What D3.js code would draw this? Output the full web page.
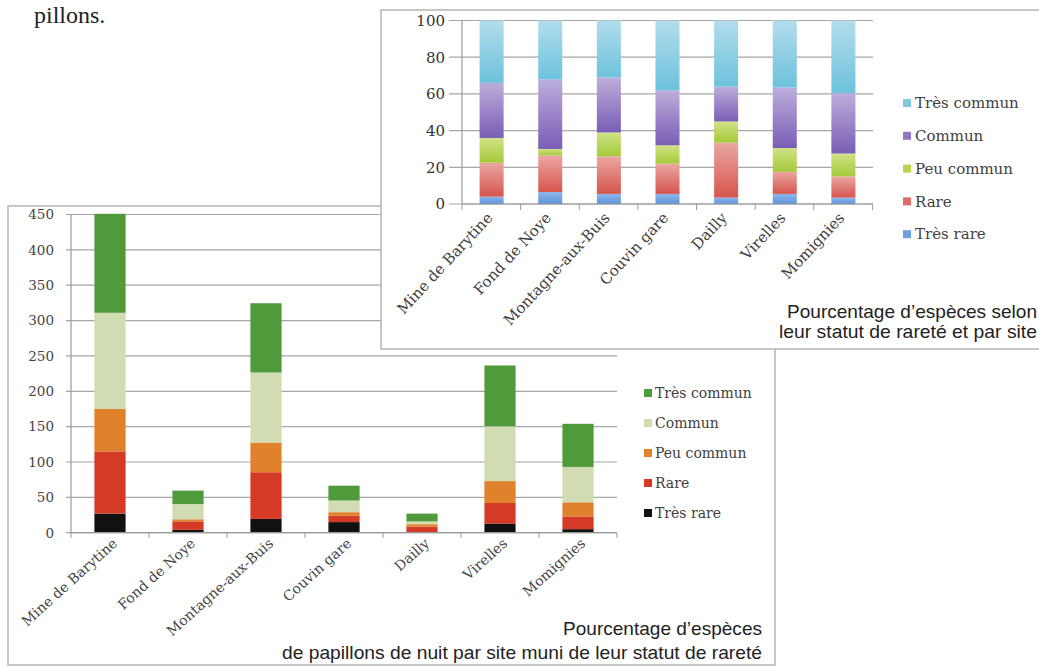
<!DOCTYPE html>
<html><head><meta charset="utf-8">
<script src="https://cdn.jsdelivr.net/npm/d3@7/dist/d3.min.js"></script>
<style>html,body{margin:0;padding:0;background:#fff;}svg{display:block;}</style>
</head><body>
<svg id="c" width="1039" height="667"></svg>
<script>
// ---------- DATA ----------
const sites = ["Mine de Barytine","Fond de Noye","Montagne-aux-Buis","Couvin gare","Dailly","Virelles","Momignies"];
const statuses = ["Très rare","Rare","Peu commun","Commun","Très commun"];
// Top chart: percentage of species per status
const pctTresRare   = [4, 6.5, 5.5, 5.5, 3.5, 5.5, 3.5];
const pctRare       = [18.5, 20, 20.5, 16.5, 30, 12, 11.5];
const pctPeuCommun  = [13.5, 3.5, 13, 10, 11.5, 13, 12.5];
const pctCommun     = [30, 38, 30, 30, 19, 33, 33];
const pctTresCommun = [34, 32, 31, 38, 36, 36.5, 39.5];
const pctTicks = [0,20,40,60,80,100];
// Bottom chart: number of species per status
const nbTresRare   = [27, 4, 19.5, 15, 1, 13, 5];
const nbRare       = [88, 12, 66, 9, 7.5, 29, 18];
const nbPeuCommun  = [60, 3, 42, 5, 3.5, 31, 20];
const nbCommun     = [136, 21.5, 99, 16.5, 4, 77.5, 50];
const nbTresCommun = [140, 19, 98, 21, 11, 86, 61];
const nbTicks = [0,50,100,150,200,250,300,350,400,450];
const captionTop = ["Pourcentage d’espèces selon","leur statut de rareté et par site"];
const captionBottom = ["Pourcentage d’espèces","de papillons de nuit par site muni de leur statut de rareté"];

// ---------- DRAW ----------
const svg = d3.select("#c");
const serif = "'DejaVu Serif', serif";
const sans = "'Liberation Sans', Arial, sans-serif";

svg.append("text").attr("x",34).attr("y",23).attr("font-family","'Liberation Serif', serif")
  .attr("font-size",24).attr("fill","#222").text("pillons.");

function makeRows(arrs){
  return sites.map((s,i)=>{ const r={site:s}; statuses.forEach((k,j)=>r[k]=arrs[j][i]); return r; });
}

// ===== Bottom chart =====
(function(){
  const g = svg.append("g");
  g.append("rect").attr("x",8).attr("y",206).attr("width",767).attr("height",459)
    .attr("fill","#fff").attr("stroke","#b4b4b4").attr("stroke-width",1.5);
  const rows = makeRows([nbTresRare,nbRare,nbPeuCommun,nbCommun,nbTresCommun]);
  const x = d3.scaleBand().domain(sites).range([71,617]).paddingInner(0.6).paddingOuter(0.3);
  const y = d3.scaleLinear().domain([0,450]).range([532.7,214.5]);
  const colors = {"Très rare":"#111111","Rare":"#d43a26","Peu commun":"#e0812c","Commun":"#d1dcb2","Très commun":"#4f9a3b"};
  g.append("g").selectAll("line").data(nbTicks).join("line")
    .attr("x1",66).attr("x2",617).attr("y1",d=>y(d)).attr("y2",d=>y(d))
    .attr("stroke","#a6a6a6").attr("stroke-width",1.2);
  g.append("g").selectAll("text").data(nbTicks).join("text")
    .attr("x",54).attr("y",d=>y(d)).attr("dy","0.36em").attr("text-anchor","end")
    .attr("font-family",serif).attr("font-size",13.5).attr("fill","#444").text(d=>d);
  const stack = d3.stack().keys(statuses)(rows);
  g.append("g").selectAll("g").data(stack).join("g").attr("fill",d=>colors[d.key])
    .selectAll("rect").data(d=>d).join("rect")
    .attr("x",d=>x(d.data.site)).attr("width",x.bandwidth())
    .attr("y",d=>y(d[1])).attr("height",d=>y(d[0])-y(d[1]));
  g.append("line").attr("x1",71).attr("x2",71).attr("y1",214).attr("y2",532.7).attr("stroke","#999").attr("stroke-width",1.2);
  g.append("line").attr("x1",71).attr("x2",617).attr("y1",532.7).attr("y2",532.7).attr("stroke","#999").attr("stroke-width",1.2);
  const step = x.step();
  g.append("g").selectAll("line").data(d3.range(sites.length+1)).join("line")
    .attr("x1",d=>71+d*step).attr("x2",d=>71+d*step).attr("y1",532.7).attr("y2",538)
    .attr("stroke","#999");
  g.append("g").selectAll("text").data(sites).join("text")
    .attr("transform",d=>`translate(${x(d)+x.bandwidth()/2+5},${541}) rotate(-42)`)
    .attr("text-anchor","end").attr("dy","0.35em")
    .attr("font-family",serif).attr("font-size",14).attr("fill","#444").text(d=>d);
  const leg = g.append("g").selectAll("g").data(statuses.slice().reverse()).join("g")
    .attr("transform",(d,i)=>`translate(644,${393+i*30})`);
  leg.append("rect").attr("x",0).attr("y",-4).attr("width",8).attr("height",8).attr("fill",d=>colors[d]);
  leg.append("text").attr("x",11).attr("dy","0.35em").attr("font-family",serif).attr("font-size",14)
    .attr("fill","#404040").text(d=>d);
  const capLen = [199, 480];
  g.append("g").selectAll("text").data(captionBottom).join("text")
    .attr("x",762).attr("y",(d,i)=>635+i*24).attr("text-anchor","end")
    .attr("textLength",(d,i)=>capLen[i]).attr("lengthAdjust","spacingAndGlyphs")
    .attr("font-family",sans).attr("font-size",19).attr("fill","#222").text(d=>d);
})();

// ===== Top chart =====
(function(){
  const g = svg.append("g");
  const defs = svg.append("defs");
  g.append("rect").attr("x",381).attr("y",10).attr("width",700).attr("height",339)
    .attr("fill","#fff").attr("stroke","#b4b4b4").attr("stroke-width",1.5);
  const rows = makeRows([pctTresRare,pctRare,pctPeuCommun,pctCommun,pctTresCommun]);
  const x = d3.scaleBand().domain(sites).range([462,873]).paddingInner(0.59).paddingOuter(0.3);
  const y = d3.scaleLinear().domain([0,100]).range([204,20.5]);
  const grad = {"Très rare":["#8db6ea","#5f93dc"],"Rare":["#eba7a2","#d6554d"],"Peu commun":["#cfe386","#a6c93a"],
                "Commun":["#bcaedb","#7a5db5"],"Très commun":["#b2dded","#6cc2dc"]};
  const legendCol = {"Très rare":"#6f9fe0","Rare":"#de6b66","Peu commun":"#b8d54e","Commun":"#8e78c2","Très commun":"#7ec8e0"};
  statuses.forEach((k,i)=>{
    const lg = defs.append("linearGradient").attr("id","gt"+i).attr("x1",0).attr("y1",0).attr("x2",0).attr("y2",1);
    lg.append("stop").attr("offset","0%").attr("stop-color",grad[k][0]);
    lg.append("stop").attr("offset","100%").attr("stop-color",grad[k][1]);
  });
  g.append("g").selectAll("line").data(pctTicks).join("line")
    .attr("x1",449).attr("x2",873).attr("y1",d=>y(d)).attr("y2",d=>y(d))
    .attr("stroke","#a6a6a6").attr("stroke-width",1.2);
  g.append("g").selectAll("text").data(pctTicks).join("text")
    .attr("x",445).attr("y",d=>y(d)).attr("dy","0.36em").attr("text-anchor","end")
    .attr("font-family",serif).attr("font-size",15).attr("fill","#333").text(d=>d);
  const stack = d3.stack().keys(statuses)(rows);
  g.append("g").selectAll("g").data(stack).join("g").attr("fill",(d,i)=>`url(#gt${i})`)
    .selectAll("rect").data(d=>d).join("rect")
    .attr("x",d=>x(d.data.site)).attr("width",x.bandwidth())
    .attr("y",d=>y(d[1])).attr("height",d=>y(d[0])-y(d[1]));
  g.append("line").attr("x1",462).attr("x2",462).attr("y1",20.5).attr("y2",204).attr("stroke","#999").attr("stroke-width",1.2);
  g.append("line").attr("x1",462).attr("x2",873).attr("y1",204).attr("y2",204).attr("stroke","#999").attr("stroke-width",1.2);
  const step = x.step();
  g.append("g").selectAll("line").data(d3.range(sites.length+1)).join("line")
    .attr("x1",d=>462+d*step).attr("x2",d=>462+d*step).attr("y1",204).attr("y2",210)
    .attr("stroke","#999");
  g.append("g").selectAll("text").data(sites).join("text")
    .attr("transform",d=>`translate(${x(d)+x.bandwidth()/2-2},${215}) rotate(-47)`)
    .attr("text-anchor","end").attr("dy","0.35em")
    .attr("font-family",serif).attr("font-size",15).attr("fill","#404040").text(d=>d);
  const leg = g.append("g").selectAll("g").data(statuses.slice().reverse()).join("g")
    .attr("transform",(d,i)=>`translate(903,${103+i*32.8})`);
  leg.append("rect").attr("x",0).attr("y",-4).attr("width",8).attr("height",8).attr("fill",d=>legendCol[d]);
  leg.append("text").attr("x",12).attr("dy","0.35em").attr("font-family",serif).attr("font-size",15)
    .attr("fill","#404040").text(d=>d);
  const capLen = [250, 258];
  g.append("g").selectAll("text").data(captionTop).join("text")
    .attr("x",1037).attr("y",(d,i)=>318+i*20).attr("text-anchor","end")
    .attr("textLength",(d,i)=>capLen[i]).attr("lengthAdjust","spacingAndGlyphs")
    .attr("font-family",sans).attr("font-size",19).attr("fill","#222").text(d=>d);
})();
</script>
</body></html>
